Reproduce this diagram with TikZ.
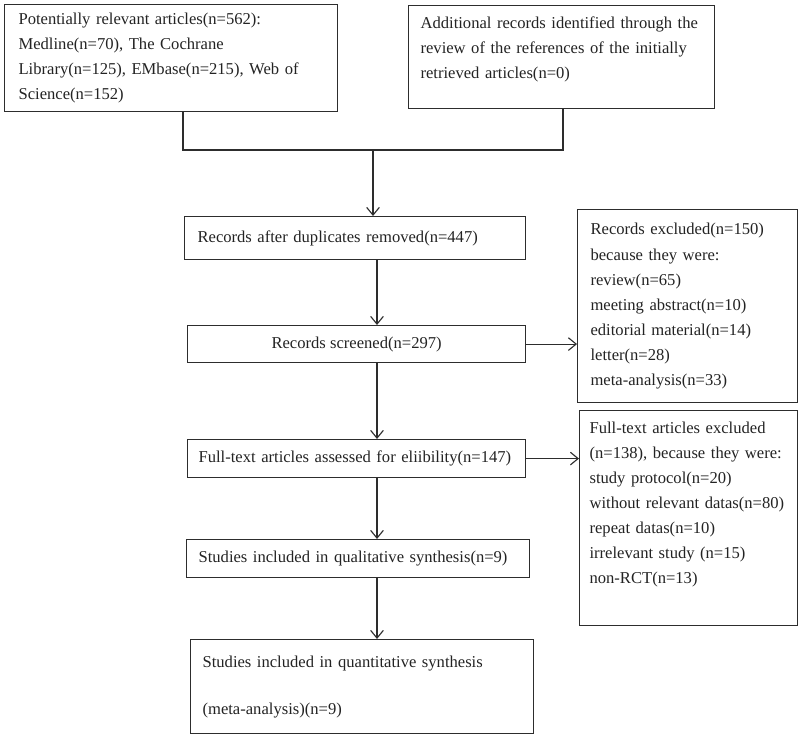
\documentclass[tikz,border=0pt]{standalone}
\usepackage{fontspec}
\setmainfont{Liberation Serif}
\usetikzlibrary{arrows.meta,positioning}
\definecolor{prline}{RGB}{45,45,45}
\definecolor{prtext}{RGB}{35,35,35}
\tikzstyle{box} = [draw=prline, line width=0.8pt, rectangle, anchor=north west, inner ysep=0pt, text=prtext, font=\fontsize{11.8}{17.8}\selectfont]
\tikzstyle{line} = [line width=0.8pt, color=prline]
\tikzstyle{arrow} = [line, -{Straight Barb[length=5.5pt,width=9pt]}]

\begin{document}
\begin{tikzpicture}[x=0.025cm, y=-0.025cm]
\useasboundingbox (0,0) rectangle (800,738);

% Sources
\node[box, minimum width=8.325cm, minimum height=2.675cm, inner xsep=0.35cm, text width=7.625cm, align=left] (src) at (4,4)
  {Potentially relevant articles(n=562):\\ Medline(n=70), The Cochrane\\ Library(n=125), EMbase(n=215), Web of\\ Science(n=152)};
\node[box, minimum width=7.65cm, minimum height=2.575cm, inner xsep=0.3cm, text width=7.05cm, align=left] (add) at (408,5)
  {Additional records identified through the\\ review of the references of the initially\\ retrieved articles(n=0)\rule[-14pt]{0pt}{14pt}};

% Main column
\node[box, minimum width=8.525cm, minimum height=1.075cm, inner xsep=0.325cm, text width=7.875cm, align=left] (dup) at (184,216)
  {Records after duplicates removed(n=447)};
\node[box, minimum width=8.45cm, minimum height=0.925cm, align=center] (scr) at (187,325)
  {Records screened(n=297)};
\node[box, minimum width=8.45cm, minimum height=0.95cm, inner xsep=0.275cm, text width=7.9cm, align=left] (full) at (187,439)
  {Full-text articles assessed for eliibility(n=147)};
\node[box, minimum width=8.575cm, minimum height=0.95cm, inner xsep=0.3cm, text width=7.975cm, align=left] (qual) at (186,539)
  {Studies included in qualitative synthesis(n=9)};
\node[box, minimum width=8.575cm, minimum height=2.35cm, inner xsep=0.3cm, text width=7.975cm, align=left] (quan) at (190,639)
  {Studies included in quantitative synthesis\\[15.6pt] (meta-analysis)(n=9)};

% Exclusions
\node[box, minimum width=5.5cm, minimum height=4.825cm, inner xsep=0.325cm, text width=4.85cm, align=left] (exc1) at (577,209)
  {Records excluded(n=150)\\ because they were:\\ review(n=65)\\ meeting abstract(n=10)\\ editorial material(n=14)\\ letter(n=28)\\ meta-analysis(n=33)};
\node[box, minimum width=5.45cm, minimum height=5.375cm, inner xsep=0.25cm, text width=4.95cm, align=left] (exc2) at (579,410)
  {Full-text articles excluded\\ (n=138), because they were:\\ study protocol(n=20)\\ \mbox{without relevant datas(n=80)}\\ repeat datas(n=10)\\ irrelevant study (n=15)\\ non-RCT(n=13)\rule[-22pt]{0pt}{22pt}};

% Connectors
\coordinate (jl) at (183,150);
\coordinate (jr) at (563,150);
\coordinate (jm) at (373,150);
\coordinate (col) at (377,0);
\draw[line] (src.south -| jl) -- (jl) -- (jr) -- (add.south -| jr);
\draw[arrow] (jm) -- (jm |- dup.north);
\draw[arrow] (dup.south -| col) -- (scr.north -| col);
\draw[arrow] (scr.south -| col) -- (full.north -| col);
\draw[arrow] (full.south -| col) -- (qual.north -| col);
\draw[arrow] (qual.south -| col) -- (quan.north -| col);
\draw[arrow] (scr.east) -- (scr.east -| exc1.west);
\draw[arrow] (full.east) -- (full.east -| exc2.west);
\end{tikzpicture}
\end{document}
